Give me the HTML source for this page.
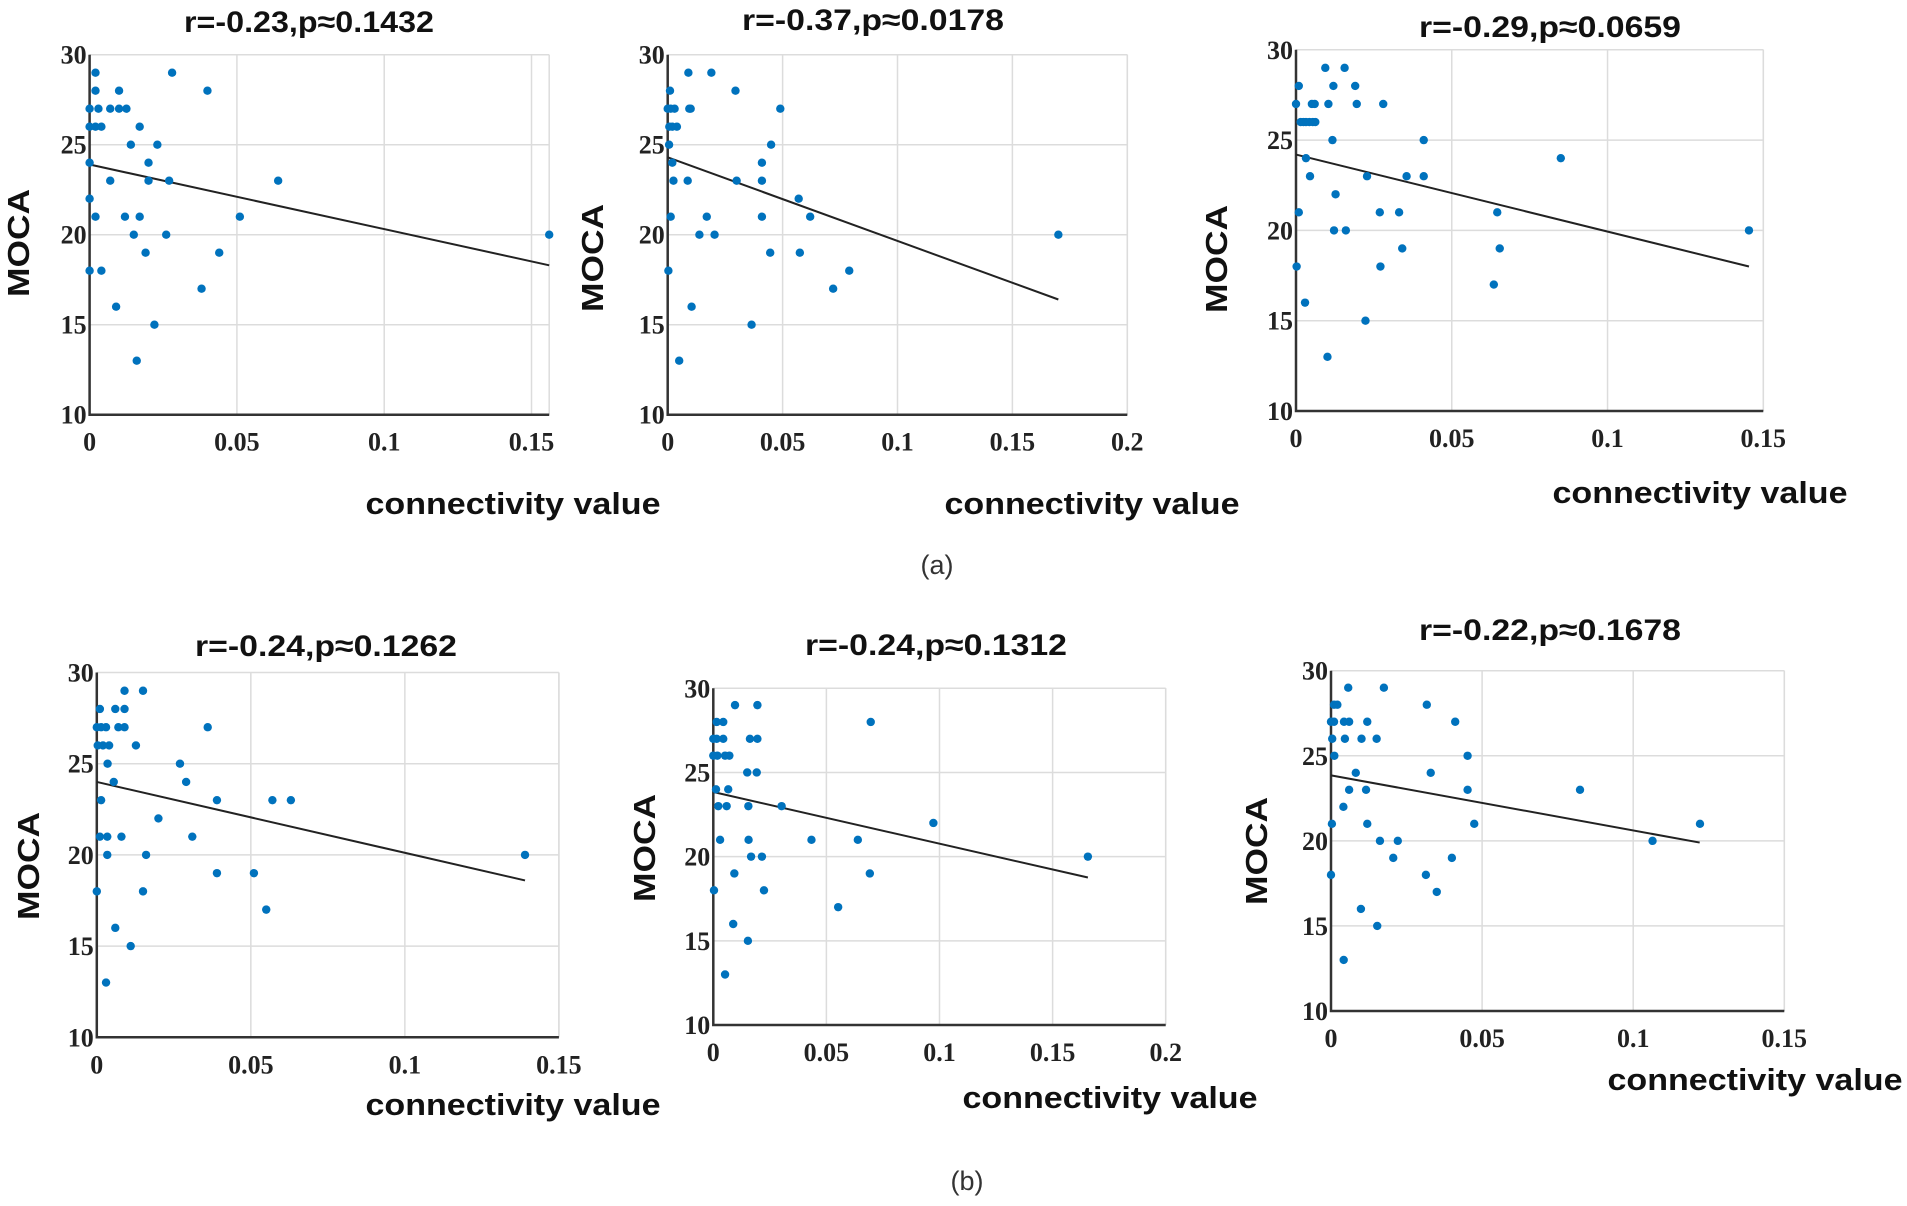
<!DOCTYPE html>
<html><head><meta charset="utf-8"><style>
html,body{margin:0;padding:0;background:#fff;}
svg{display:block;}
text{font-family:"Liberation Sans",sans-serif;}
.tick{font-family:"Liberation Serif",serif;font-weight:bold;font-size:26px;fill:#222;}
.ttl{font-weight:bold;font-size:30px;fill:#111;}
.lab{font-weight:bold;font-size:31px;fill:#111;}
.cap{font-size:27px;fill:#333;}
</style></head><body>
<svg id="fig" width="1907" height="1206" viewBox="0 0 1907 1206" xmlns="http://www.w3.org/2000/svg">
<text class="cap" x="937" y="574" text-anchor="middle">(a)</text>
<text class="cap" x="967" y="1190" text-anchor="middle">(b)</text>
</svg>
<script>
// Panel 1
const xs1=[.002,.028,.040,.002,.010,0,.003,.007,.010,.0125,0,.002,.004,.017,.014,.023,0,.020,.007,.020,.027,.064,0,.002,.012,.017,.051,.015,.026,.156,.019,.044,0,.004,.038,.009,.022,.016];
const ys1=[29,29,28,28,28,27,27,27,27,27,26,26,26,26,25,25,24,24,23,23,23,23,22,21,21,21,21,20,20,20,19,19,18,18,17,16,15,13];
const fit1=[0,23.9,0.156,18.3];
const title1="r=-0.23,p≈0.1432";
// Panel 2
const xs2=[.009,.019,.001,.0295,0,.0013,.003,.0094,.01,.049,.0007,.002,.004,.0006,.045,.002,.041,.0025,.0087,.030,.041,.057,.0013,.017,.041,.062,.0138,.0204,.170,.0446,.0575,.0003,.079,.072,.0104,.0365,.005];
const ys2=[29,29,28,28,27,27,27,27,27,27,26,26,26,25,25,24,24,23,23,23,23,22,21,21,21,21,20,20,20,19,19,18,18,17,16,15,13];
const fit2=[0,24.3,0.170,16.4];
const title2="r=-0.37,p≈0.0178";
// Panel 3
const xs3=[.0094,.0156,.0009,.012,.019,0,.0104,.0051,.006,.0195,.028,.0015,.0024,.0032,.0043,.0054,.0062,.0117,.041,.0032,.085,.0045,.0228,.0355,.041,.0127,.0009,.0269,.0331,.0646,.0122,.016,.1454,.0341,.0654,.0002,.0271,.0635,.0029,.0223,.0101];
const ys3=[29,29,28,28,28,27,27,27,27,27,27,26,26,26,26,26,26,25,25,24,24,23,23,23,23,22,21,21,21,21,20,20,20,19,19,18,18,17,16,15,13];
const fit3=[0,24.2,0.1454,18.0];
const title3="r=-0.29,p≈0.0659";
// Panel 4
const xs4=[.009,.015,.001,.006,.009,0,.0014,.003,.007,.009,.036,.0003,.002,.004,.0127,.0035,.027,.0055,.029,.0014,.039,.057,.063,.020,.001,.0034,.008,.031,.0034,.016,.139,.039,.051,0,.015,.055,.006,.011,.003];
const ys4=[29,29,28,28,28,27,27,27,27,27,27,26,26,26,26,25,25,24,24,23,23,23,23,22,21,21,21,21,20,20,20,19,19,18,18,17,16,15,13];
const fit4=[0,24.0,0.139,18.6];
const title4="r=-0.24,p≈0.1262";
// Panel 5
const xs5=[.0096,.0195,.0015,.0044,.0696,0,.0015,.0044,.0162,.0195,0,.0018,.0052,.0071,.015,.0192,.0012,.0066,.0022,.0059,.0155,.0302,.0973,.003,.0156,.0434,.0639,.0167,.0215,.1656,.0093,.0692,.0003,.0224,.0552,.0088,.0153,.0052];
const ys5=[29,29,28,28,28,27,27,27,27,27,26,26,26,26,25,25,24,24,23,23,23,23,22,21,21,21,21,20,20,20,19,19,18,18,17,16,15,13];
const fit5=[0,23.84,0.1656,18.76];
const title5="r=-0.24,p≈0.1312";
// Panel 6
const xs6=[.0057,.0175,.001,.0021,.0317,0,.001,.0043,.006,.012,.0411,.0004,.0046,.0101,.0151,.0011,.0452,.0082,.033,.006,.0116,.0452,.0824,.0041,.0003,.012,.0474,.1221,.0162,.0221,.1064,.0206,.04,0,.0314,.035,.0099,.0153,.0042];
const ys6=[29,29,28,28,28,27,27,27,27,27,27,26,26,26,26,25,25,24,24,23,23,23,23,22,21,21,21,21,20,20,20,19,19,18,18,17,16,15,13];
const fit6=[0,23.85,0.122,19.9];
const title6="r=-0.22,p≈0.1678";
const yTicks=[10,15,20,25,30];
const xTicksA=[0,0.05,0.1,0.15];
const xTicksB=[0,0.05,0.1,0.15,0.2];
const xTickLabA=["0","0.05","0.1","0.15"];
const xTickLabB=["0","0.05","0.1","0.15","0.2"];

const NS="http://www.w3.org/2000/svg";
const svg=document.getElementById('fig');
function mk(tag,attrs,parent){const e=document.createElementNS(NS,tag);for(const k in attrs)e.setAttribute(k,attrs[k]);(parent||svg).appendChild(e);return e;}

const layout=[
 {xs:xs1,ys:ys1,fit:fit1,title:title1,x0:89.6,x1:549.2,xmax:0.156,y30:54.7,y10:414.7,tx:309,ty:32,tl:250,ylx:18,yly:243,xlx:513,xly:514,xt:xTicksA,xl:xTickLabA},
 {xs:xs2,ys:ys2,fit:fit2,title:title2,x0:667.7,x1:1127.3,xmax:0.2,y30:54.7,y10:414.7,tx:873,ty:30,tl:262,ylx:592,yly:258,xlx:1092,xly:514,xt:xTicksB,xl:xTickLabB},
 {xs:xs3,ys:ys3,fit:fit3,title:title3,x0:1296,x1:1763.3,xmax:0.15,y30:49.8,y10:411,tx:1550,ty:37,tl:262,ylx:1216,yly:259,xlx:1700,xly:503,xt:xTicksA,xl:xTickLabA},
 {xs:xs4,ys:ys4,fit:fit4,title:title4,x0:96.8,x1:558.9,xmax:0.15,y30:672.5,y10:1037.3,tx:326,ty:656,tl:262,ylx:28,yly:866,xlx:513,xly:1115,xt:xTicksA,xl:xTickLabA},
 {xs:xs5,ys:ys5,fit:fit5,title:title5,x0:713.3,x1:1165.7,xmax:0.2,y30:688.3,y10:1025,tx:936,ty:655,tl:262,ylx:644,yly:848,xlx:1110,xly:1108,xt:xTicksB,xl:xTickLabB},
 {xs:xs6,ys:ys6,fit:fit6,title:title6,x0:1331,x1:1784.3,xmax:0.15,y30:670.7,y10:1011,tx:1550,ty:640,tl:262,ylx:1256,yly:851,xlx:1755,xly:1090,xt:xTicksA,xl:xTickLabA}
];

layout.forEach((p,i)=>{
 const g=mk('g',{});
 
 
 const sx=v=>p.x0+v/p.xmax*(p.x1-p.x0);
 const sy=v=>p.y10-(v-10)/20*(p.y10-p.y30);
 yTicks.forEach(t=>{const l=mk('line',{x1:p.x0,x2:p.x1,y1:sy(t),y2:sy(t),stroke:'#dcdcdc','stroke-width':1.5},g);
  
  });
 p.xt.forEach(t=>{const l=mk('line',{x1:sx(t),x2:sx(t),y1:p.y30,y2:p.y10,stroke:'#dcdcdc','stroke-width':1.5},g);
  
  });
 mk('line',{x1:p.x1,x2:p.x1,y1:p.y30,y2:p.y10,stroke:'#dcdcdc','stroke-width':1.5},g);
 const ax=mk('path',{d:`M${p.x0},${p.y30}V${p.y10}H${p.x1}`,fill:'none',stroke:'#333','stroke-width':2.5},g);
 
 
 yTicks.forEach(t=>{const e=mk('text',{x:p.x0-3,y:sy(t)+9,'text-anchor':'end',class:'tick'},g);e.textContent=t;
  
  });
 p.xt.forEach((t,k)=>{const e=mk('text',{x:sx(t),y:p.y10+36,'text-anchor':'middle',class:'tick'},g);e.textContent=p.xl[k];
  
  });
 const fl=mk('line',{x1:sx(p.fit[0]),y1:sy(p.fit[1]),x2:sx(p.fit[2]),y2:sy(p.fit[3]),stroke:'#222','stroke-width':2},g);
 
 
 p.xs.forEach((x,k)=>{const c=mk('circle',{cx:sx(x),cy:sy(p.ys[k]),r:4.2,fill:'#0072BD'},g);
  
  });
 const t=mk('text',{x:p.tx,y:p.ty,'text-anchor':'middle',class:'ttl',textLength:p.tl,lengthAdjust:'spacingAndGlyphs'},g);t.textContent=p.title;
 
 
 const yl=mk('text',{x:0,y:0,'text-anchor':'middle',class:'lab',transform:`translate(${p.ylx+11},${p.yly}) rotate(-90)`,textLength:108,lengthAdjust:'spacingAndGlyphs'},g);yl.textContent='MOCA';
 
 
 const xl=mk('text',{x:p.xlx,y:p.xly,'text-anchor':'middle',class:'lab',textLength:295,lengthAdjust:'spacingAndGlyphs'},g);xl.textContent='connectivity value';
 
 
});
</script>
</body></html>
